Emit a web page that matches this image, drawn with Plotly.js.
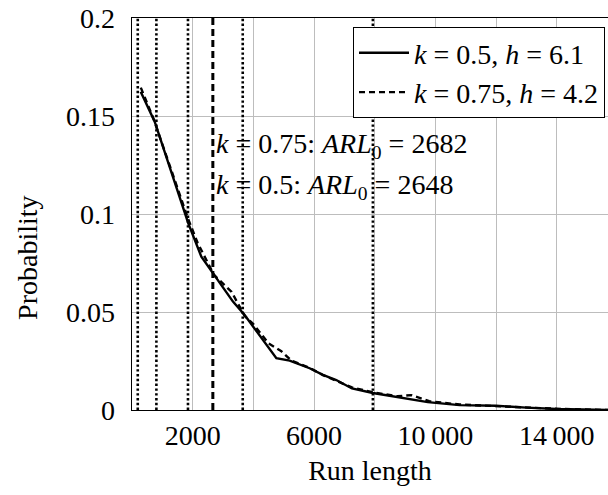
<!DOCTYPE html>
<html>
<head>
<meta charset="utf-8">
<script src="https://cdn.plot.ly/plotly-3.0.1.min.js"></script>
<style>
html,body{margin:0;padding:0;background:#fff;overflow:hidden;}
#chart{width:608px;height:495px;}
</style>
</head>
<body>
<div id="chart"></div>
<script>
// Run length (x) and probability (y), solid curve: k = 0.5, h = 6.1
const runLenA = [287, 748, 1850, 2286, 3328, 3713, 4758, 5196, 5855, 6293, 6733, 7250, 7941, 8750, 9750, 10800, 12000, 13000, 14000, 15700];
const probA   = [0.1624, 0.1471, 0.0955, 0.0782, 0.0553, 0.0485, 0.0264, 0.0252, 0.0213, 0.0179, 0.0153, 0.0110, 0.0087, 0.0065, 0.0040, 0.0025, 0.0022, 0.0012, 0.0005, 0.0000];
// dashed curve: k = 0.75, h = 4.2
const runLenB = [290, 700, 1850, 2165, 2700, 3285, 3713, 3990, 4500, 4922, 5250, 5855, 6293, 6733, 7250, 7941, 8750, 9200, 9800, 10800, 12000, 13325, 14000, 15700];
const probB   = [0.1645, 0.1490, 0.0975, 0.0852, 0.0690, 0.0602, 0.0480, 0.0440, 0.0340, 0.0300, 0.0252, 0.0215, 0.0178, 0.0150, 0.0115, 0.0090, 0.0070, 0.0076, 0.0045, 0.0028, 0.0020, 0.0014, 0.0006, 0.0000];
// vertical reference lines
const dottedLines = [190, 804, 1845, 3650, 7940];
const dashedLines = [2665];
// ticks
const xTickVals = [2000, 6000, 10000, 14000];
const xTickText = ['2000', '6000', '10\u2009000', '14\u2009000'];
const yTickVals = [0, 0.05, 0.1, 0.15, 0.2];
const yTickText = ['0', '0.05', '0.1', '0.15', '0.2'];
const seriesNames = ['<i>k</i> = 0.5, <i>h</i> = 6.1', '<i>k</i> = 0.75, <i>h</i> = 4.2'];
const arlLabels = ['<i>k</i> = 0.75: <i>ARL</i><sub>0</sub> = 2682', '<i>k</i> = 0.5: <i>ARL</i><sub>0</sub> = 2648'];

const FONT = 'Liberation Serif, serif';
const FS = 28;

const traces = [
  {x: runLenA, y: probA, type: 'scatter', mode: 'lines', name: seriesNames[0],
   line: {color: '#000', width: 2.4}},
  {x: runLenB, y: probB, type: 'scatter', mode: 'lines', name: seriesNames[1],
   line: {color: '#000', width: 2.4, dash: '6px,4px'}}
];

const shapes = [];
dottedLines.forEach(v => shapes.push({type: 'line', xref: 'x', yref: 'paper', x0: v, x1: v, y0: 0, y1: 1,
  line: {color: '#000', width: 2.6, dash: '2.4px,2.4px'}, layer: 'above'}));
dashedLines.forEach(v => shapes.push({type: 'line', xref: 'x', yref: 'paper', x0: v, x1: v, y0: 0, y1: 1,
  line: {color: '#000', width: 3, dash: '7px,4px'}, layer: 'above'}));

const layout = {
  width: 608, height: 495,
  margin: {l: 132, r: 0, t: 18, b: 85},
  paper_bgcolor: '#fff', plot_bgcolor: '#fff',
  font: {family: FONT, size: FS, color: '#000'},
  showlegend: true,
  legend: {x: 0.9937, xanchor: 'right', y: 0.977, yanchor: 'top', itemwidth: 50,
    bgcolor: '#fff', bordercolor: '#000', borderwidth: 1,
    font: {family: FONT, size: FS, color: '#000'}, tracegroupgap: 0},
  xaxis: {range: [0, 15690], tickmode: 'array', tickvals: xTickVals, ticktext: xTickText,
    showgrid: true, gridcolor: '#bdbdbd', gridwidth: 1,
    minor: {tickmode: 'linear', tick0: 0, dtick: 2000, showgrid: true, gridcolor: '#bdbdbd', gridwidth: 1},
    showline: true, linecolor: '#000', linewidth: 1.3, mirror: true,
    ticks: '', zeroline: false,
    tickfont: {family: FONT, size: FS},
    title: {text: 'Run length', font: {family: FONT, size: FS}, standoff: 10}},
  yaxis: {range: [0, 0.2], tickmode: 'array', tickvals: yTickVals, ticktext: yTickText,
    showgrid: true, gridcolor: '#bdbdbd', gridwidth: 1,
    showline: true, linecolor: '#000', linewidth: 1.3, mirror: false,
    ticks: '', zeroline: false, ticklabelstandoff: 10,
    tickfont: {family: FONT, size: FS}},
  shapes: shapes,
  annotations: [
    {xref: 'x', yref: 'paper', x: 2700, y: 0.676, xanchor: 'left', yanchor: 'middle', showarrow: false,
     text: arlLabels[0], font: {family: FONT, size: FS}},
    {xref: 'x', yref: 'paper', x: 2700, y: 0.571, xanchor: 'left', yanchor: 'middle', showarrow: false,
     text: arlLabels[1], font: {family: FONT, size: FS}},
    {xref: 'paper', yref: 'paper', x: -0.2185, y: 0.388, xanchor: 'center', yanchor: 'middle', showarrow: false,
     textangle: -90, text: 'Probability', font: {family: FONT, size: FS}}
  ]
};

Plotly.newPlot('chart', traces, layout, {staticPlot: true, displayModeBar: false});
</script>
</body>
</html>
